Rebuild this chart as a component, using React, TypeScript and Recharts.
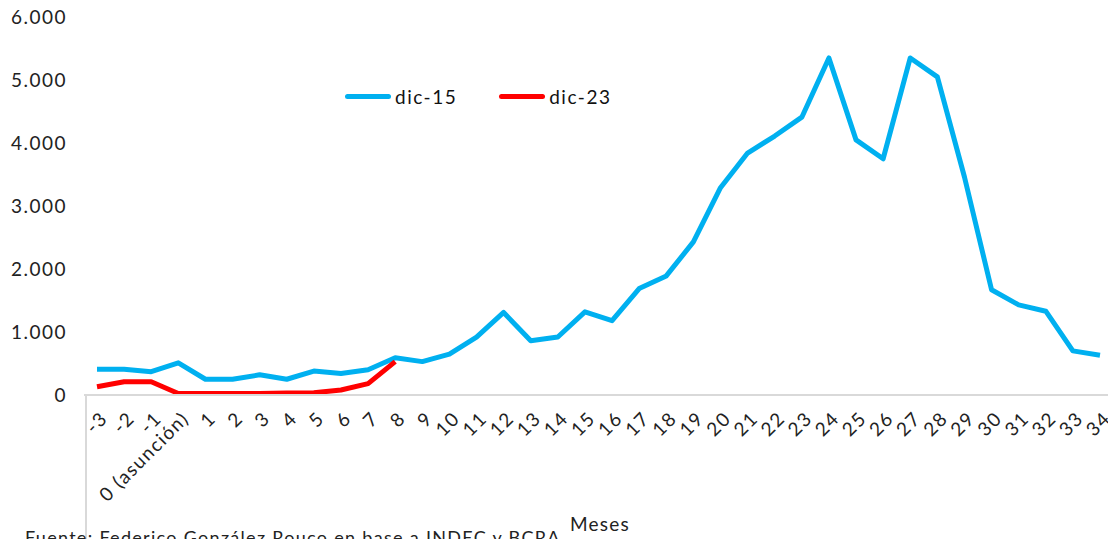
import { LineChart, Line, XAxis, YAxis } from 'recharts';

const meses = [
  '-3', '-2', '-1', '0 (asunción)', '1', '2', '3', '4', '5', '6', '7', '8', '9', '10',
  '11', '12', '13', '14', '15', '16', '17', '18', '19', '20', '21', '22', '23', '24',
  '25', '26', '27', '28', '29', '30', '31', '32', '33', '34',
];

const dic15 = [
  410, 410, 370, 510, 250, 250, 320, 250, 380, 340, 400, 590, 530, 650,
  920, 1310, 860, 920, 1320, 1180, 1690, 1890, 2430, 3290, 3840, 4110, 4410, 5350,
  4050, 3750, 5350, 5050, 3460, 1670, 1430, 1330, 700, 630,
];

const dic23 = [130, 210, 210, 25, 25, 25, 25, 30, 35, 80, 180, 530];

const yTicks = [0, 1000, 2000, 3000, 4000, 5000, 6000];

const FONT = 'Lato, "DejaVu Sans", sans-serif';
const BLUE = '#00B0F0';
const RED = '#FF0000';

const chartData = meses.map((mes, i) => ({
  mes,
  dic15: dic15[i],
  dic23: i < dic23.length ? dic23[i] : null,
}));

const fmt = (v: number) => v.toLocaleString('de-DE');

function MesTick({ x, y, payload }: any) {
  const ax = x + 1;
  const ay = y + 6;
  return (
    <text
      x={ax}
      y={ay}
      transform={`rotate(-45, ${ax}, ${ay})`}
      textAnchor="end"
      dominantBaseline="hanging"
      fontSize={19}
      letterSpacing={1.5}
      fontFamily={FONT}
      fill="#222"
    >
      {payload.value}
    </text>
  );
}

export default function App() {
  return (
    <div style={{ position: 'absolute', top: 0, left: 0, width: 1108, height: 539, overflow: 'hidden', background: '#fff' }}>
      <LineChart width={1120} height={539} data={chartData} margin={{ top: 17, right: 6, bottom: 0, left: 0 }}>
        <XAxis
          dataKey="mes"
          interval={0}
          tickLine={false}
          tick={<MesTick />}
          axisLine={{ stroke: '#d9d9d9', strokeWidth: 2 }}
          padding={{ left: 13, right: 14 }}
          height={144}
        />
        <YAxis
          domain={[0, 6000]}
          ticks={yTicks}
          tickFormatter={fmt}
          axisLine={false}
          tickLine={false}
          width={84}
          tickMargin={11}
          tick={{ fontSize: 19, fontFamily: FONT, fill: '#222', letterSpacing: 1.5 }}
        />
        <Line dataKey="dic15" name="dic-15" stroke={BLUE} strokeWidth={5} dot={false} isAnimationActive={false} strokeLinejoin="round" />
        <Line dataKey="dic23" name="dic-23" stroke={RED} strokeWidth={5} dot={false} isAnimationActive={false} strokeLinejoin="round" />
      </LineChart>
      <div style={{ position: 'absolute', left: 345, top: 85, display: 'flex', fontFamily: FONT, fontSize: 19, letterSpacing: 1.5, color: '#111' }}>
        {[{ label: 'dic-15', color: BLUE }, { label: 'dic-23', color: RED }].map((it) => (
          <div key={it.label} style={{ display: 'flex', alignItems: 'center', marginRight: 42 }}>
            <span style={{ width: 46, height: 5, borderRadius: 3, background: it.color, marginRight: 4 }} />
            <span>{it.label}</span>
          </div>
        ))}
      </div>
      <div style={{ position: 'absolute', left: 85, top: 396, width: 2, height: 143, background: '#d9d9d9' }} />
      <div style={{ position: 'absolute', left: 570, top: 512, fontFamily: FONT, fontSize: 19, letterSpacing: 1.2, color: '#222' }}>Meses</div>
      <div style={{ position: 'absolute', left: 25, top: 526, fontFamily: FONT, fontSize: 18, letterSpacing: 1.3, color: '#222', whiteSpace: 'nowrap' }}>
        Fuente: Federico González Rouco en base a INDEC y BCRA
      </div>
    </div>
  );
}
